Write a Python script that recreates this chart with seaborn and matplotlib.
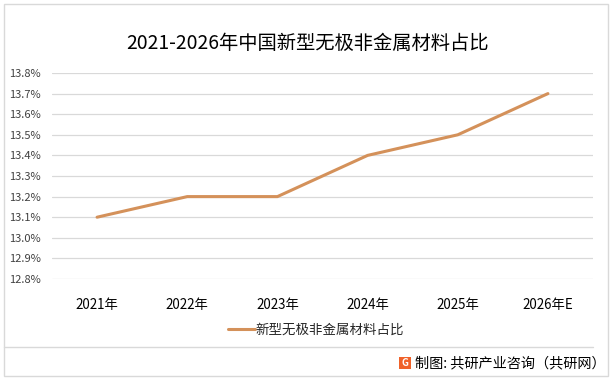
import matplotlib
matplotlib.use("Agg")
import matplotlib.pyplot as plt
import seaborn as sns
import pandas as pd
from matplotlib.patches import Rectangle
from matplotlib.lines import Line2D

# data
years = ["2021年", "2022年", "2023年", "2024年", "2025年", "2026年E"]
share = [13.1, 13.2, 13.2, 13.4, 13.5, 13.7]
series_name = "新型无极非金属材料占比"
title = "2021-2026年中国新型无极非金属材料占比"
y_ticks = [12.8, 12.9, 13.0, 13.1, 13.2, 13.3, 13.4, 13.5, 13.6, 13.7, 13.8]

sns.set_theme(style="white")
plt.rcParams['font.family'] = ['Noto Sans CJK SC', 'DejaVu Sans']

W, H = 614, 379
fig = plt.figure(figsize=(W / 100, H / 100), dpi=100)

# outer frame and separator above the source line
fig.add_artist(Rectangle((4 / W, 3 / H), 604 / W, 372 / H, transform=fig.transFigure,
                         fill=False, edgecolor='#D9D9D9', linewidth=1))
fig.add_artist(Line2D([4 / W, 593 / W], [1 - 347 / H, 1 - 347 / H], transform=fig.transFigure,
                      color='#D9D9D9', linewidth=1))

ax = fig.add_axes([52 / W, 1 - 279 / H, (593 - 52) / W, (279 - 73) / H])

df = pd.DataFrame({"year": years, "share": share})
sns.lineplot(data=df, x="year", y="share", ax=ax, color='#D4915A', linewidth=2.2,
             label=series_name, sort=False)

ax.set_xlim(-0.5, len(years) - 0.5)
ax.set_ylim(12.8, 13.8)
ax.set_yticks(y_ticks)
ax.set_yticklabels([f"{v:.1f}%" for v in y_ticks])
ax.yaxis.grid(True, color='#D9D9D9', linewidth=0.9)
ax.xaxis.grid(False)
for s in ax.spines.values():
    s.set_visible(False)
ax.tick_params(axis='y', length=0, pad=8, labelsize=8, labelcolor='#404040')
ax.tick_params(axis='x', length=0, pad=14, labelsize=9.6, labelcolor='#000000')
ax.set_xlabel("")
ax.set_ylabel("")

ax.legend(loc='center', bbox_to_anchor=(316 / W, 1 - 330 / H), bbox_transform=fig.transFigure,
          frameon=False, fontsize=9.7, handlelength=2.0, handletextpad=0.1)

fig.text(307 / W, 1 - 43 / H, title, ha='center', va='center', fontsize=13.9, color='#000000')

# source line with small logo box
fig.add_artist(Rectangle((399 / W, 1 - 369 / H), 12 / W, 12 / H, transform=fig.transFigure,
                         facecolor='#F0622A', edgecolor='none'))
fig.text(405 / W, 1 - 363 / H, "G", ha='center', va='center', fontsize=7, color='white',
         fontweight='bold')
fig.text(415 / W, 1 - 363 / H, "制图: 共研产业咨询（共研网）", ha='left', va='center',
         fontsize=10.2, color='#000000')

fig.savefig("out.png", dpi=100)
